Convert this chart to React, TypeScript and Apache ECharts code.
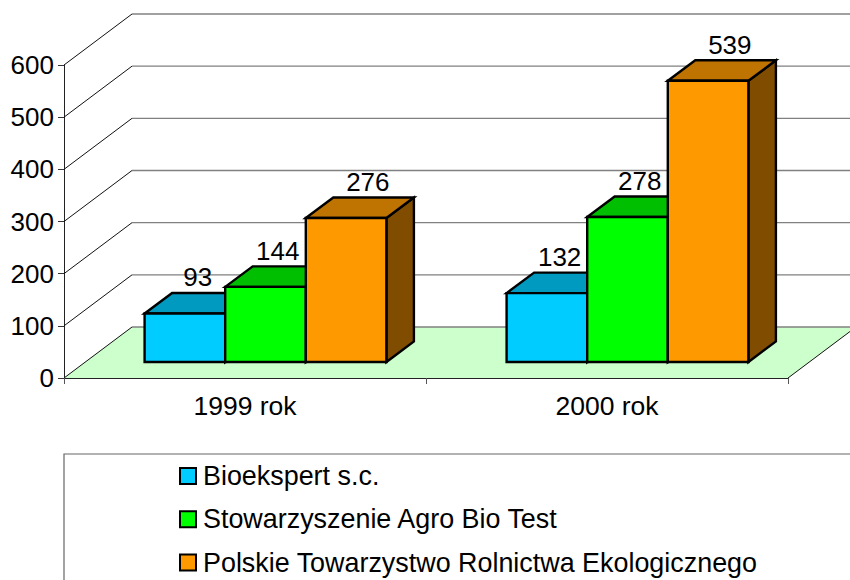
import React, { useEffect, useRef } from "react";
import * as echarts from "echarts";

const categories = ["1999 rok", "2000 rok"];
const yTicks = [0, 100, 200, 300, 400, 500, 600];
const bioekspert = [93, 132];
const agroBio = [144, 278];
const ptre = [276, 539];
const seriesNames = [
  "Bioekspert s.c.",
  "Stowarzyszenie Agro Bio Test",
  "Polskie Towarzystwo Rolnictwa Ekologicznego",
];
const seriesValues = [bioekspert, agroBio, ptre];
const frontColors = ["#00CCFF", "#00FF00", "#FF9900"];
const topColors = ["#0099BF", "#00BF00", "#BF7300"];
const sideColors = ["#006680", "#008000", "#804D00"];
const labelShift = [-1, -1.5, 8];

const FAMILY = '"Liberation Sans", Arial, sans-serif';
const FONT = `26px ${FAMILY}`;
const WALL_DX = 68;
const WALL_DY = 51;
const FLOOR_DX = 20.5;
const FLOOR_DY = 16;
const BAR_DX = 27.5;
const BAR_DY = 20.5;
const BAR_W = 80.6;

function barRenderer(seriesIndex: number) {
  return (_params: any, api: any) => {
    const cat = api.value(0);
    const val = api.value(1);
    const top = api.coord([cat, val]);
    const base = api.coord([cat, 0]);
    const x0 = top[0] + FLOOR_DX + (seriesIndex - 1.5) * BAR_W;
    const x1 = x0 + BAR_W;
    const yT = top[1] - FLOOR_DY;
    const yB = base[1] - FLOOR_DY;
    const stroke = { stroke: "#000", lineWidth: 2.4, lineJoin: "miter" };
    return {
      type: "group",
      children: [
        {
          type: "polygon",
          shape: { points: [[x1, yT], [x1 + BAR_DX, yT - BAR_DY], [x1 + BAR_DX, yB - BAR_DY], [x1, yB]] },
          style: { fill: sideColors[seriesIndex], ...stroke },
        },
        {
          type: "polygon",
          shape: { points: [[x0, yT], [x0 + BAR_DX, yT - BAR_DY], [x1 + BAR_DX, yT - BAR_DY], [x1, yT]] },
          style: { fill: topColors[seriesIndex], ...stroke },
        },
        {
          type: "rect",
          shape: { x: x0, y: yT, width: BAR_W, height: yB - yT },
          style: { fill: frontColors[seriesIndex], ...stroke },
        },
        {
          type: "text",
          z2: 50,
          style: {
            text: String(val),
            x: x0 + BAR_W / 2 + BAR_DX / 2 + labelShift[seriesIndex],
            y: yT - BAR_DY - 15.5,
            align: "center",
            verticalAlign: "middle",
            font: FONT,
            fill: "#000",
          },
        },
      ],
    };
  };
}

function wallRenderer(params: any, api: any) {
  const v = api.value(0);
  const cs = params.coordSys;
  const p = api.coord([0, v]);
  const y = p[1];
  const xL = cs.x;
  const xR = cs.x + cs.width;
  const children: any[] = [];
  if (v === 0) {
    children.push({
      type: "polygon",
      shape: { points: [[xL, y], [xL + WALL_DX, y - WALL_DY], [xR + WALL_DX, y - WALL_DY], [xR, y]] },
      style: { fill: "#CCFFCC", stroke: "none" },
    });
    children.push({
      type: "line",
      shape: { x1: xR, y1: y, x2: xR + WALL_DX, y2: y - WALL_DY },
      style: { stroke: "#111", lineWidth: 1 },
    });
  }
  children.push({
    type: "line",
    shape: { x1: xL, y1: y, x2: xL + WALL_DX, y2: y - WALL_DY },
    style: { stroke: "#111", lineWidth: 1 },
  });
  children.push({
    type: "line",
    shape: { x1: xL + WALL_DX, y1: y - WALL_DY, x2: xR + WALL_DX, y2: y - WALL_DY },
    style: { stroke: "#808080", lineWidth: 1.4 },
  });
  return { type: "group", children };
}

export default function App() {
  const ref = useRef<HTMLDivElement>(null);
  useEffect(() => {
    document.body.style.margin = "0";
    document.body.style.overflow = "hidden";
    const chart = echarts.init(ref.current!, null, { renderer: "svg" });
    chart.setOption({
      animation: false,
      backgroundColor: "#fff",
      textStyle: { fontFamily: FAMILY },
      grid: { left: 64, top: 65, width: 724, height: 313 },
      xAxis: {
        type: "category",
        data: categories,
        axisLine: { lineStyle: { color: "#222", width: 1 } },
        axisTick: { show: true, length: 6, lineStyle: { color: "#555" } },
        axisLabel: { color: "#000", fontSize: 26.5, margin: 14, fontFamily: FAMILY },
        splitLine: { show: false },
      },
      yAxis: {
        type: "value",
        min: yTicks[0],
        max: yTicks[yTicks.length - 1],
        interval: 100,
        axisLine: { show: true, lineStyle: { color: "#222", width: 1 } },
        axisTick: { show: true, length: 6, lineStyle: { color: "#333" } },
        axisLabel: { color: "#000", fontSize: 26, margin: 10, fontFamily: FAMILY },
        splitLine: { show: false },
      },
      legend: {
        orient: "vertical",
        left: 179,
        top: 462.5,
        icon: "rect",
        itemWidth: 16,
        itemHeight: 16,
        itemGap: 16.3,
        selectedMode: false,
        data: seriesNames,
        textStyle: { color: "#000", fontSize: 26.9, padding: [0, 0, 0, 2], fontFamily: FAMILY },
        padding: 0,
      },
      graphic: [
        {
          type: "rect",
          z: -1,
          shape: { x: 64, y: 454, width: 900, height: 300 },
          style: { fill: "none", stroke: "#666", lineWidth: 1.2 },
        },
      ],
      series: [
        {
          type: "custom",
          name: "walls",
          z: 1,
          clip: false,
          renderItem: wallRenderer,
          data: yTicks.map((v) => [v]),
          encode: { y: 0 },
          silent: true,
        },
        ...seriesNames.map((name, si) => ({
          type: "custom",
          name,
          z: 3 + si,
          clip: false,
          renderItem: barRenderer(si),
          itemStyle: { color: frontColors[si], borderColor: "#000", borderWidth: 2 },
          data: seriesValues[si].map((v, i) => [i, v]),
          encode: { x: 0, y: 1 },
        })),
      ],
    });
    return () => chart.dispose();
  }, []);
  return <div ref={ref} style={{ position: "absolute", left: 0, top: 0, width: 850, height: 580, overflow: "hidden" }} />;
}
